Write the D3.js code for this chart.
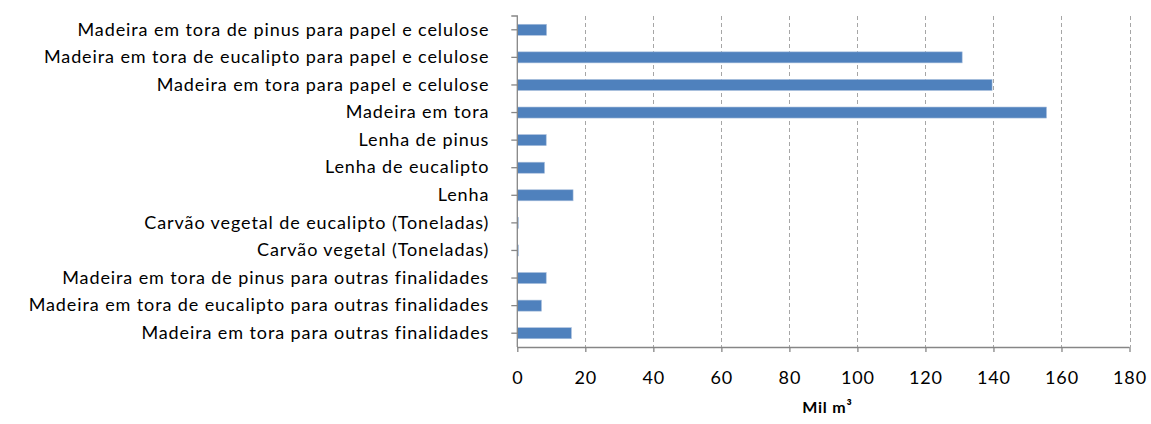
<!DOCTYPE html>
<html><head><meta charset="utf-8">
<script src="https://cdn.jsdelivr.net/npm/d3@7"></script>
<style>body{margin:0;background:#fff}svg{display:block}text{font-family:Lato,"Open Sans",sans-serif;fill:#000}</style>
</head><body><svg id="c" width="1151" height="424"></svg>
<script>
const categories = [
  "Madeira em tora de pinus para papel e celulose",
  "Madeira em tora de eucalipto para papel e celulose",
  "Madeira em tora para papel e celulose",
  "Madeira em tora",
  "Lenha de pinus",
  "Lenha de eucalipto",
  "Lenha",
  "Carvão vegetal de eucalipto (Toneladas)",
  "Carvão vegetal (Toneladas)",
  "Madeira em tora de pinus para outras finalidades",
  "Madeira em tora de eucalipto para outras finalidades",
  "Madeira em tora para outras finalidades"
];
const values = [8.6, 130.8, 139.6, 155.6, 8.5, 8.0, 16.4, 0.3, 0.3, 8.5, 7.1, 15.9];
const xTicks = [0, 20, 40, 60, 80, 100, 120, 140, 160, 180];
const xTitle = "Mil m³";

const svg = d3.select("#c");
const L = 517.3, R = 1129.5, T = 16, B = 347;
const x = d3.scaleLinear().domain([0, 180]).range([L, R]);
const y = d3.scaleBand().domain(categories).range([T, B]).paddingInner(0.6).paddingOuter(0.3);
const axisCol = "#868686";

// gridlines
svg.append("g").selectAll("line").data(xTicks.filter(d => d > 0)).join("line")
  .attr("x1", d => Math.round(x(d)) + 0.5).attr("x2", d => Math.round(x(d)) + 0.5)
  .attr("y1", T).attr("y2", B)
  .attr("stroke", "#a6a6a6").attr("stroke-width", 1).attr("stroke-dasharray", "4,3");

// bars
svg.append("g").selectAll("rect").data(values).join("rect")
  .attr("x", x(0)).attr("y", (d, i) => y(categories[i]))
  .attr("width", d => x(d) - x(0)).attr("height", y.bandwidth())
  .attr("fill", "#4f81bd").attr("stroke", "#a9bfdc").attr("stroke-width", 0.6);

// x axis
const xa = svg.append("g").attr("transform", `translate(0,${B})`)
  .call(d3.axisBottom(x).tickValues(xTicks).tickSize(5).tickPadding(19).tickFormat(d3.format("d")));
xa.select(".domain").attr("stroke", axisCol).attr("stroke-width", 1.3).attr("d", `M${L},0.5H${R}`);
xa.selectAll(".tick line").attr("stroke", axisCol).attr("stroke-width", 1.3);
xa.selectAll(".tick text").attr("font-size", 18).attr("letter-spacing", "0.9px")
  .attr("font-family", "Lato,sans-serif").attr("fill", "#000");

// y axis (ticks at category centres)
const ya = svg.append("g").attr("transform", `translate(${L},0)`)
  .call(d3.axisLeft(y).tickSize(6).tickPadding(22).tickSizeOuter(6));
ya.select(".domain").attr("stroke", axisCol).attr("stroke-width", 1.3).attr("d", `M-6,${T}H0V${B}`);
ya.selectAll(".tick line").attr("stroke", axisCol).attr("stroke-width", 1.3);
ya.selectAll(".tick text").attr("font-size", 18).attr("letter-spacing", "0.9px")
  .attr("font-family", "Lato,sans-serif").attr("fill", "#000").attr("dx", "0");

// axis title
svg.append("text").attr("x", (L + R) / 2 + 4).attr("y", 413).attr("text-anchor", "middle")
  .attr("font-size", 16).attr("letter-spacing", "0.8px").attr("font-weight", "bold").text(xTitle);
</script></body></html>
